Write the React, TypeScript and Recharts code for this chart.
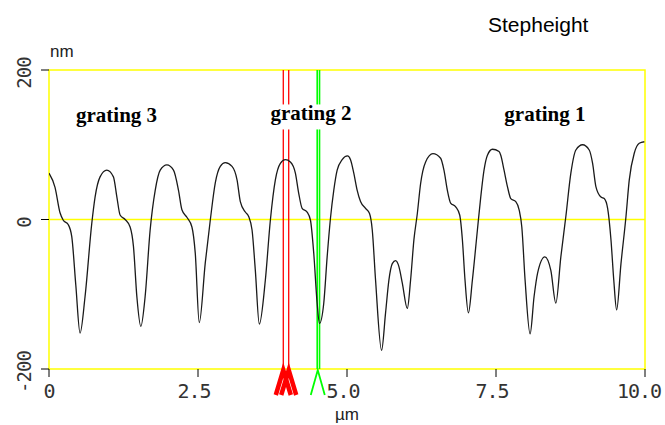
import React from 'react';
import { LineChart, Line, XAxis, YAxis, ReferenceLine, ReferenceArea, ReferenceDot } from 'recharts';

// Profile position along the scan (µm)
const positionUm = [
  0.0, 0.101, 0.185, 0.24, 0.324, 0.382, 0.45, 0.521, 0.605, 0.718, 0.773, 0.857, 0.97, 1.081, 1.139, 1.193,
  1.277, 1.361, 1.417, 1.474, 1.541, 1.613, 1.697, 1.782, 1.866, 1.978, 2.089, 2.173, 2.23, 2.314, 2.398,
  2.454, 2.521, 2.622, 2.706, 2.79, 2.874, 2.958, 3.071, 3.155, 3.21, 3.294, 3.35, 3.407, 3.462, 3.529,
  3.63, 3.714, 3.798, 3.882, 3.966, 4.05, 4.134, 4.19, 4.247, 4.331, 4.387, 4.442, 4.499, 4.538, 4.61,
  4.667, 4.723, 4.778, 4.835, 4.919, 5.008, 5.059, 5.114, 5.171, 5.227, 5.311, 5.378, 5.424, 5.479, 5.58,
  5.647, 5.703, 5.76, 5.815, 5.871, 5.928, 6.012, 6.067, 6.123, 6.18, 6.235, 6.319, 6.442, 6.571, 6.627,
  6.684, 6.739, 6.824, 6.891, 6.936, 6.98, 7.037, 7.104, 7.188, 7.244, 7.299, 7.356, 7.44, 7.551, 7.58,
  7.635, 7.692, 7.748, 7.832, 7.888, 7.933, 7.988, 8.072, 8.139, 8.197, 8.319, 8.42, 8.504, 8.588, 8.672,
  8.756, 8.84, 8.953, 9.064, 9.121, 9.176, 9.261, 9.316, 9.373, 9.429, 9.476, 9.524, 9.597, 9.681, 9.736,
  9.821, 9.904, 9.989,
];

// Measured height (nm)
const heightNm = [
  62, 43, 9, -1, -7, -23, -88, -152, -103, -5, 30, 57, 66, 57, 30, 6,
  0, -10, -36, -103, -143, -103, -14, 39, 66, 73, 66, 39, 13, 3, -10,
  -45, -138, -58, -1, 49, 71, 76, 71, 53, 24, 10, 4, -14, -68, -140,
  -81, -1, 53, 75, 80, 77, 62, 35, 15, 10, -1, -45, -112, -139, -112,
  -50, 2, 39, 66, 80, 85, 80, 62, 39, 24, 15, 8, -14, -81, -175,
  -125, -81, -59, -55, -63, -85, -119, -81, -27, 8, 48, 77, 88, 82, 66,
  39, 22, 17, 6, -27, -81, -125, -81, -14, 30, 66, 86, 94, 91, 86,
  66, 44, 28, 24, 13, -10, -81, -153, -103, -72, -50, -68, -112, -50, 4,
  62, 93, 100, 93, 75, 44, 30, 28, 15, -27, -81, -121, -59, 4, 53,
  89, 102, 104,
];

const xTicks = [0, 2.5, 5, 7.5, 10];
const xTickLabels = ['0', '2.5', '5.0', '7.5', '10.0'];
const yTicks = [-200, 0, 200];

const redCursorsUm = [3.931, 4.022];
const greenCursorsUm = [4.5, 4.539];

const gratingLabels = [
  { text: 'grating 3', x: 1.133, y: 130, boxed: false },
  { text: 'grating 2', x: 4.396, y: 132.5, boxed: true },
  { text: 'grating 1', x: 8.32, y: 132, boxed: false },
];

const data = positionUm.map((x, i) => ({ x, y: heightNm[i] }));

const tickFont = '"DejaVu Sans Mono", monospace';

const XTick = (props: any) => {
  const { x, y, payload } = props;
  const idx = xTicks.indexOf(payload.value);
  const label = idx >= 0 ? xTickLabels[idx] : String(payload.value);
  return (
    <text
      x={x - (label.length - 1) * 2}
      y={y + 19}
      textAnchor="middle"
      fontFamily={tickFont}
      fontSize={20}
      letterSpacing={-1}
      fill="#333"
    >
      {label}
    </text>
  );
};

const YTick = (props: any) => {
  const { x, y, payload } = props;
  const bx = x - 8;
  const by = y + 3;
  return (
    <text
      x={bx}
      y={by}
      transform={`rotate(-90 ${bx} ${by})`}
      textAnchor="middle"
      fontFamily={tickFont}
      fontSize={19}
      letterSpacing={-1}
      fill="#333"
    >
      {String(payload.value)}
    </text>
  );
};

const Lambda = (color: string, width: number, spread: number) => (props: any) => {
  const { cx, cy } = props;
  return (
    <polyline
      points={`${cx - spread},${cy + 26} ${cx},${cy + 1} ${cx + spread},${cy + 26}`}
      fill="none"
      stroke={color}
      strokeWidth={width}
      strokeLinejoin="miter"
    />
  );
};

const GratingLabel = (text: string, boxed: boolean) => (props: any) => {
  const { cx, cy } = props;
  return (
    <g>
      {boxed && <rect x={cx - 44} y={cy - 16} width={88} height={25} fill="#ffffff" />}
      <text
        x={cx}
        y={cy}
        textAnchor="middle"
        fontFamily='"Liberation Serif", "Times New Roman", serif'
        fontWeight="bold"
        fontSize={21}
        fill="#000"
      >
        {text}
      </text>
    </g>
  );
};

export default function App() {
  return (
    <div style={{ position: 'absolute', left: 0, top: 0, width: 665, height: 425, background: '#fff' }}>
      <LineChart width={665} height={425} data={data} margin={{ top: 70, right: 20, left: 0, bottom: 0 }}>
        <XAxis
          dataKey="x"
          type="number"
          domain={[0, 10]}
          ticks={xTicks}
          axisLine={false}
          tickLine={{ stroke: '#000' }}
          tickSize={8}
          height={56}
          tick={<XTick />}
          allowDataOverflow
        />
        <YAxis
          type="number"
          domain={[-200, 200]}
          ticks={yTicks}
          axisLine={false}
          tickLine={{ stroke: '#000' }}
          tickSize={8}
          width={49}
          tick={<YTick />}
          allowDataOverflow
        />
        <ReferenceArea x1={0} x2={10} y1={-200} y2={200} fill="none" stroke="#ffff00" strokeWidth={1.5} fillOpacity={0} />
        <ReferenceLine y={0} stroke="#ffff00" strokeWidth={1.5} />
        {redCursorsUm.map((v) => (
          <ReferenceLine key={'r' + v} x={v} stroke="#ff0000" strokeWidth={1.3} />
        ))}
        {greenCursorsUm.map((v) => (
          <ReferenceLine key={'g' + v} x={v} stroke="#00ff00" strokeWidth={1.6} />
        ))}
        <Line
          type="monotone"
          dataKey="y"
          stroke="#1a1a1a"
          strokeWidth={1.3}
          dot={false}
          isAnimationActive={false}
        />
        {redCursorsUm.map((v) => (
          <ReferenceDot key={'rm' + v} x={v} y={-200} r={0} shape={Lambda('#ff0000', 4.5, 7.5)} />
        ))}
        <ReferenceDot x={(greenCursorsUm[0] + greenCursorsUm[1]) / 2 - 0.01} y={-200} r={0} shape={Lambda('#00ff00', 1.8, 7)} />
        {gratingLabels.map((g) => (
          <ReferenceDot key={g.text} x={g.x} y={g.y} r={0} shape={GratingLabel(g.text, g.boxed)} />
        ))}
      </LineChart>
      <svg width={665} height={425} style={{ position: 'absolute', left: 0, top: 0, pointerEvents: 'none' }}>
        <text x={488} y={31.5} fontFamily='"Liberation Sans", Arial, sans-serif' fontSize={21} fill="#000">
          Stepheight
        </text>
        <text x={50} y={56.5} fontFamily='"Liberation Sans", Arial, sans-serif' fontSize={17} fill="#222">
          nm
        </text>
        <text x={335} y={420} fontFamily='"Liberation Sans", Arial, sans-serif' fontSize={17} fill="#222">
          µm
        </text>
      </svg>
    </div>
  );
}
